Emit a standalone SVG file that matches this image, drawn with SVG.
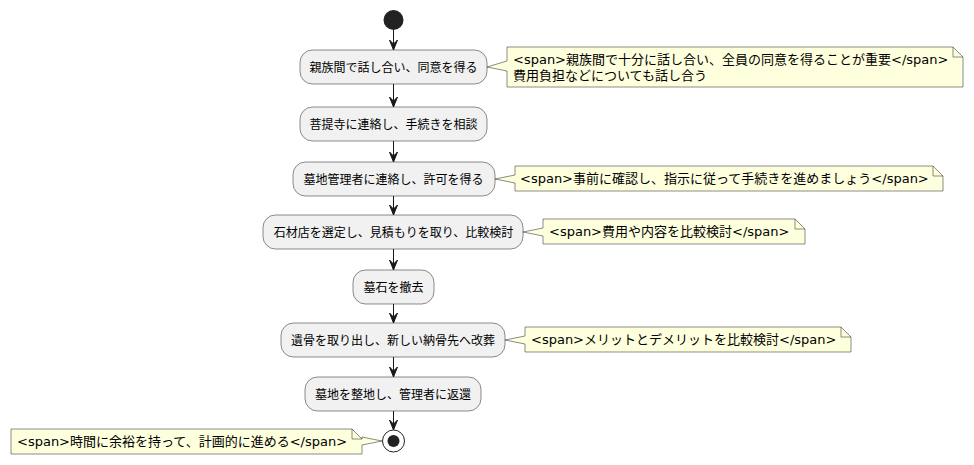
<svg xmlns="http://www.w3.org/2000/svg" width="974" height="465" viewBox="0 0 974 465">
<defs>
<style>
.act{fill:#F1F1F1;stroke:#181818;stroke-width:0.5}
.note{fill:#FEFFDD;stroke:#181818;stroke-width:0.5}
.fold{fill:none;stroke:#181818;stroke-width:0.5}
.at{font-family:"DejaVu Sans","Noto Sans CJK JP",sans-serif;font-size:12px;fill:#000;text-anchor:middle}
.nt{font-family:"DejaVu Sans","Noto Sans CJK JP",sans-serif;font-size:13px;fill:#000}
.ln{stroke:#181818;stroke-width:1;fill:none}
.ah{fill:#181818;stroke:#181818;stroke-width:1}
</style>
</defs>
<rect width="974" height="465" fill="#FFFFFF"/>
<g id="start"><circle cx="393.5" cy="20" r="10" fill="#222222"/></g>
<g id="connectors">
<line class="ln" x1="393.5" y1="30" x2="393.5" y2="50"/><polygon class="ah" points="389.5,40 393.5,50 397.5,40 393.5,44"/>
<line class="ln" x1="393.5" y1="84" x2="393.5" y2="107"/><polygon class="ah" points="389.5,97 393.5,107 397.5,97 393.5,101"/>
<line class="ln" x1="393.5" y1="141" x2="393.5" y2="162"/><polygon class="ah" points="389.5,152 393.5,162 397.5,152 393.5,156"/>
<line class="ln" x1="393.5" y1="196" x2="393.5" y2="215"/><polygon class="ah" points="389.5,205 393.5,215 397.5,205 393.5,209"/>
<line class="ln" x1="393.5" y1="249" x2="393.5" y2="270"/><polygon class="ah" points="389.5,260 393.5,270 397.5,260 393.5,264"/>
<line class="ln" x1="393.5" y1="304" x2="393.5" y2="323"/><polygon class="ah" points="389.5,313 393.5,323 397.5,313 393.5,317"/>
<line class="ln" x1="393.5" y1="357" x2="393.5" y2="377"/><polygon class="ah" points="389.5,367 393.5,377 397.5,367 393.5,371"/>
<line class="ln" x1="393.5" y1="411" x2="393.5" y2="430"/><polygon class="ah" points="389.5,420 393.5,430 397.5,420 393.5,424"/>
</g>
<g id="a1"><rect class="act" x="300" y="50" width="187" height="34" rx="12.5"/><text class="at" x="393.5" y="71.5">親族間で話し合い、同意を得る</text></g>
<g id="n1"><path class="note" d="M507,47 L953,47 L963,57 L963,87 L507,87 L507,71 L487,67 L507,61 Z"/><path class="fold" d="M953,47 L953,57 L963,57"/><text class="nt" x="513" y="64">&lt;span&gt;親族間で十分に話し合い、全員の同意を得ることが重要&lt;/span&gt;</text><text class="nt" x="513" y="80">費用負担などについても話し合う</text></g>
<g id="a2"><rect class="act" x="300" y="107" width="187" height="34" rx="12.5"/><text class="at" x="393.5" y="128.5">菩提寺に連絡し、手続きを相談</text></g>
<g id="a3"><rect class="act" x="293" y="162" width="202" height="34" rx="12.5"/><text class="at" x="393.5" y="183.5">墓地管理者に連絡し、許可を得る</text></g>
<g id="n3"><path class="note" d="M515,166 L933,166 L943,176 L943,191 L515,191 L515,183 L495,179 L515,175 Z"/><path class="fold" d="M933,166 L933,176 L943,176"/><text class="nt" x="520" y="183">&lt;span&gt;事前に確認し、指示に従って手続きを進めましょう&lt;/span&gt;</text></g>
<g id="a4"><rect class="act" x="263" y="215" width="260" height="34" rx="12.5"/><text class="at" x="393.5" y="236.5">石材店を選定し、見積もりを取り、比較検討</text></g>
<g id="n4"><path class="note" d="M543,219 L795,219 L805,229 L805,244 L543,244 L543,236 L523,232 L543,228 Z"/><path class="fold" d="M795,219 L795,229 L805,229"/><text class="nt" x="549" y="236">&lt;span&gt;費用や内容を比較検討&lt;/span&gt;</text></g>
<g id="a5"><rect class="act" x="353" y="270" width="81" height="34" rx="12.5"/><text class="at" x="393.5" y="291.5">墓石を撤去</text></g>
<g id="a6"><rect class="act" x="281" y="323" width="224" height="34" rx="12.5"/><text class="at" x="393" y="344.5">遺骨を取り出し、新しい納骨先へ改葬</text></g>
<g id="n6"><path class="note" d="M525,327 L841,327 L851,337 L851,352 L525,352 L525,344 L505,340 L525,336 Z"/><path class="fold" d="M841,327 L841,337 L851,337"/><text class="nt" x="531" y="344">&lt;span&gt;メリットとデメリットを比較検討&lt;/span&gt;</text></g>
<g id="a7"><rect class="act" x="305" y="377" width="176" height="34" rx="12.5"/><text class="at" x="393" y="398.5">墓地を整地し、管理者に返還</text></g>
<g id="end"><circle cx="393.5" cy="441" r="11" fill="none" stroke="#222222" stroke-width="1"/><circle cx="393.5" cy="441" r="6" fill="#222222"/></g>
<g id="n8"><path class="note" d="M11,429 L352,429 L362,439 L362,437 L382,441 L362,445 L362,454 L11,454 Z"/><path class="fold" d="M352,429 L352,439 L362,439"/><text class="nt" x="17" y="446">&lt;span&gt;時間に余裕を持って、計画的に進める&lt;/span&gt;</text></g>
</svg>
